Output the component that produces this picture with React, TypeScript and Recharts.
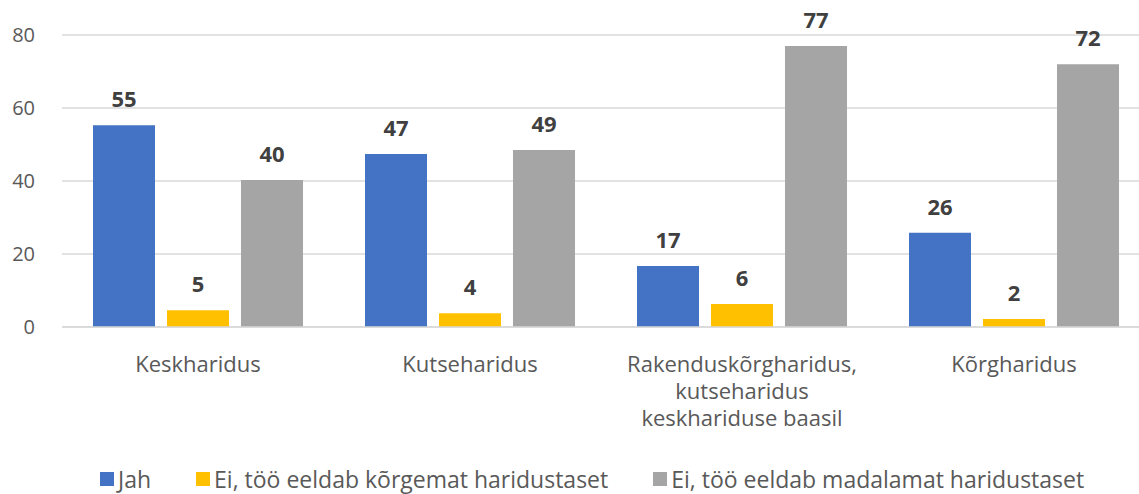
import { BarChart, Bar, XAxis, YAxis, CartesianGrid, LabelList, Legend } from 'recharts';

const categories = [
  'Keskharidus',
  'Kutseharidus',
  'Rakenduskõrgharidus,\nkutseharidus\nkeskhariduse baasil',
  'Kõrgharidus',
];
const jah = [55.3, 47.4, 16.7, 25.8];
const korgemat = [4.6, 3.8, 6.3, 2.2];
const madalamat = [40.3, 48.5, 77, 72];
const yTicks = [0, 20, 40, 60, 80];

const SERIES = [
  { key: 'jah', name: 'Jah', color: '#4472C4' },
  { key: 'korgemat', name: 'Ei, töö eeldab kõrgemat haridustaset', color: '#FFC000' },
  { key: 'madalamat', name: 'Ei, töö eeldab madalamat haridustaset', color: '#A5A5A5' },
];

const FONT = '"Open Sans", sans-serif';
const TEXT = '#595959';

const data = categories.map((name, i) => ({
  name,
  jah: jah[i],
  korgemat: korgemat[i],
  madalamat: madalamat[i],
}));

const CategoryTick = ({ x, y, payload }: any) => {
  const lines = String(payload.value).split('\n');
  return (
    <text x={x} y={y} textAnchor="middle" fill={TEXT} fontSize={22} fontFamily={FONT}>
      {lines.map((line, i) => (
        <tspan key={i} x={x} dy={i === 0 ? 37 : 27}>
          {line}
        </tspan>
      ))}
    </text>
  );
};

const CustomLegend = () => (
  <div style={{ display: 'flex', alignItems: 'center', paddingLeft: 100, height: 30, lineHeight: '30px', fontFamily: FONT, fontSize: 23, color: TEXT }}>
    {SERIES.map((s) => (
      <div key={s.key} style={{ display: 'flex', alignItems: 'center', marginRight: 45 }}>
        <span style={{ width: 14, height: 14, background: s.color, display: 'inline-block', marginRight: 4 }} />
        <span>{s.name}</span>
      </div>
    ))}
  </div>
);

export default function App() {
  return (
    <div style={{ position: 'absolute', left: 0, top: 0, width: 1139, height: 494, overflow: 'hidden', background: '#fff' }}>
      <BarChart
        width={1150}
        height={494}
        data={data}
        margin={{ top: 35, right: 0, bottom: 0, left: 0 }}
        barSize={62}
        barGap={12}
      >
        <CartesianGrid vertical={false} stroke="#d9d9d9" strokeWidth={1.3} />
        <XAxis
          dataKey="name"
          tick={<CategoryTick />}
          tickLine={false}
          axisLine={{ stroke: '#d9d9d9', strokeWidth: 1.3 }}
          height={137}
          interval={0}
        />
        <YAxis
          width={62}
          domain={[0, 80]}
          ticks={yTicks}
          axisLine={false}
          tickLine={false}
          tickMargin={21}
          tick={{ fill: TEXT, fontSize: 20, fontFamily: FONT }}
        />
        <Legend verticalAlign="bottom" align="left" content={<CustomLegend />} wrapperStyle={{ left: 0, bottom: 0, width: 1139 }} />
        {SERIES.map((s) => (
          <Bar key={s.key} dataKey={s.key} name={s.name} fill={s.color} isAnimationActive={false}>
            <LabelList
              dataKey={s.key}
              position="top"
              offset={18}
              formatter={(v: any) => Math.round(Number(v))}
              fill="#404040"
              fontSize={22}
              fontWeight="bold"
              fontFamily={FONT}
            />
          </Bar>
        ))}
      </BarChart>
    </div>
  );
}
